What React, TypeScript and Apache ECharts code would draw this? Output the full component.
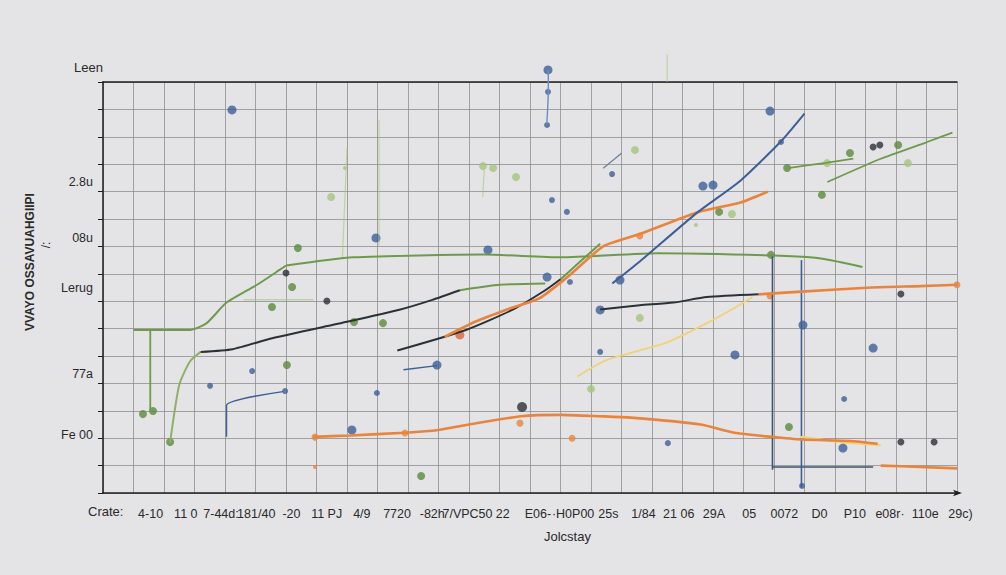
import React, { useEffect, useRef } from "react";
import * as echarts from "echarts";

// ---- text ----
const titleText = "Leen";
const yAxisName = "VVAYO OSSAVUAHGIIPI";
const yAxisName2 = "/:";
const xAxisName = "Jolcstay";
const xAxisLead = "Crate:";
const xTickLabels = ["4-10", "11 0", "7-44d:", "181/40", "-20", "11 PJ", "4/9", "7720", "-82h", "7/VPC50", "22", "E06-", "·H0P00", "25s", "1/84", "21 06", "29A", "05", "0072", "D0", "P10", "e08r·", "110e", "29c)"];
const yTickLabels = ["2.8u", "08u", "Lerug", "77a", "Fe 00"];
const yTickValues = [11.35, 9.3, 7.5, 4.35, 2.1];

// ---- lines ----
const orangeLow = [[6.9, 2.05], [8.1, 2.1], [9.9, 2.2], [11.0, 2.3], [12.0, 2.5], [13.7, 2.8], [15.0, 2.85], [16.3, 2.8], [17.3, 2.75], [19.6, 2.5], [20.7, 2.2], [21.9, 2.05], [22.9, 1.95], [24.5, 1.9], [25.4, 1.8]];
const orangeTail = [[25.5, 1.0], [26.8, 0.95], [28, 0.9]];
const orangeMid = [[21.5, 7.25], [22.9, 7.35], [25.2, 7.5], [26.8, 7.55], [28, 7.6]];
const orangeRise = [[11.2, 5.7], [12.2, 6.25], [13.25, 6.7], [14.3, 7.1], [15.3, 7.95], [16.4, 9.0], [17.6, 9.45], [19.5, 10.25], [20.9, 10.6], [21.8, 11.0]];
const blueRise = [[16.7, 7.65], [17.6, 8.45], [19.5, 10.25], [20.9, 11.4], [22.2, 12.8], [23.0, 13.85]];
const blackLeft = [[3.2, 5.15], [4.25, 5.25], [5.55, 5.65], [8.0, 6.25], [9.75, 6.7], [10.8, 7.05], [11.7, 7.4]];
const greenMid = [[11.7, 7.4], [13.0, 7.6], [14.5, 7.65]];
const blackCross = [[9.65, 5.2], [11.9, 5.95], [13.45, 6.7], [14.5, 7.4], [15.0, 7.8]];
const greenUp = [[15.0, 7.8], [15.6, 8.4], [16.3, 9.1]];
const greenFlat = [[6.0, 8.3], [8.2, 8.6], [12.5, 8.7], [15.0, 8.6], [18.2, 8.75], [22.4, 8.65], [23.6, 8.55], [24.9, 8.25]];
const greenLeft = [[1.0, 5.95], [2.85, 5.95], [3.4, 6.2], [4.05, 6.95], [5.05, 7.6], [5.8, 8.15], [6.0, 8.3]];
const greenDrop = [[1.55, 5.95], [1.55, 2.95]];
const greenCurve = [[2.2, 1.85], [2.5, 3.95], [2.85, 4.8], [3.2, 5.15]];
const greenTopA = [[22.4, 11.85], [23.7, 12.05], [24.6, 12.2]];
const greenTopB = [[23.75, 11.35], [25.5, 12.2], [27.0, 12.8], [27.85, 13.15]];
const palePlateau = [[4.6, 7.05], [6.9, 7.05]];
const yellowLine = [[15.55, 4.25], [16.5, 4.85], [18.5, 5.5], [19.8, 6.2], [20.7, 6.75], [21.3, 7.15]];
const yellowLow = [[22.85, 2.05], [24.3, 1.85], [25.5, 1.75]];
const blackRight = [[16.3, 6.7], [17.6, 6.85], [18.7, 6.95], [19.8, 7.15], [21.5, 7.25]];
const blueLeft = [[4.05, 2.05], [4.05, 3.2], [5.9, 3.7]];
const blueMid = [[9.85, 4.5], [10.95, 4.65]];
const blueTop = [[14.6, 15.45], [14.6, 14.65], [14.55, 13.45]];
const blueVert = [[22.9, 8.5], [22.9, 0.2]];
const darkVert = [[21.95, 8.7], [21.95, 0.85]];
const darkFlat = [[21.95, 0.95], [25.25, 0.95]];
const blueTwig = [[16.4, 11.85], [17.0, 12.4]];
const paleStemA = [[9.05, 13.6], [9.05, 9.0]];
const paleStemB = [[8.0, 12.6], [7.85, 8.6]];
const paleStemC = [[12.5, 11.8], [12.45, 10.8]];
const paleStemD = [[18.5, 16.0], [18.5, 15.0]];

// ---- dots ----
const blueBig = [[4.23, 13.98], [14.59, 15.44], [8.95, 9.31], [12.62, 8.87], [14.56, 7.88], [16.95, 7.77], [19.67, 11.2], [20.0, 11.24], [21.87, 13.94], [16.3, 6.68], [20.72, 5.04], [22.95, 6.13], [25.25, 5.29], [24.26, 1.64], [10.95, 4.67], [8.16, 2.3]];
const blueSmall = [[14.59, 14.64], [14.56, 13.43], [15.31, 7.7], [15.21, 10.26], [14.72, 10.69], [16.69, 11.64], [22.23, 12.81], [16.3, 5.15], [24.3, 3.43], [18.52, 1.82], [22.92, 0.26], [3.51, 3.91], [4.89, 4.45], [5.97, 3.72], [8.98, 3.65]];
const greenDark = [[6.39, 8.94], [5.54, 6.79], [6.2, 7.52], [8.23, 6.24], [9.18, 6.2], [6.03, 4.67], [1.31, 2.88], [1.64, 2.99], [2.2, 1.86], [10.43, 0.62], [22.43, 11.86], [26.07, 12.7], [24.49, 12.41], [20.2, 10.26], [21.9, 8.69], [22.49, 2.41], [23.57, 10.88]];
const greenLight = [[12.46, 11.93], [12.79, 11.86], [13.54, 11.53], [7.48, 10.8], [17.44, 12.52], [23.74, 12.04], [26.39, 12.04], [20.62, 10.18], [16.0, 3.8], [17.6, 6.39]];
const greenTiny = [[7.93, 11.86], [19.44, 9.78]];
const blackDots = [[7.34, 7.01], [6.0, 8.03], [25.25, 12.63], [25.47, 12.7], [26.16, 7.26], [26.16, 1.86], [27.25, 1.86]];
const blackBig = [[13.74, 3.14]];
const orangeDots = [[6.95, 2.04], [9.9, 2.19], [13.67, 2.55], [15.38, 2.0], [28, 7.6], [17.6, 9.38], [21.87, 7.19]];
const orangeTiny = [[6.95, 0.95]];
const redDots = [[11.7, 5.77]];

const C = {
  orange: "#e8843c",
  green: "#6e9a4c",
  greenLight: "#a5c47e",
  black: "#2c3137",
  blue: "#3d5f96",
  yellow: "#efd27a",
  grid: "#8e8e90",
  text: "#2a2a2a",
};

function line(data: number[][], color: string, width: number, opacity = 1) {
  return {
    type: "line",
    data,
    xAxisIndex: 0,
    yAxisIndex: 0,
    showSymbol: false,
    symbol: "none",
    clip: false,
    smooth: 0.2,
    lineStyle: { color, width, opacity },
    silent: true,
  };
}

function dots(data: number[][], color: string, size: number) {
  return {
    type: "scatter",
    data,
    xAxisIndex: 0,
    yAxisIndex: 0,
    clip: false,
    symbol: "circle",
    symbolSize: size,
    itemStyle: { color },
    silent: true,
  };
}

export default function App() {
  const ref = useRef<HTMLDivElement>(null);
  useEffect(() => {
    if (!ref.current) return;
    const chart = echarts.init(ref.current, undefined, { renderer: "svg" });
    const font = "Liberation Sans, Arial, sans-serif";
    chart.setOption({
      animation: false,
      backgroundColor: "#e4e4e6",
      textStyle: { fontFamily: font },
      grid: [
        { left: 103, top: 82, width: 854, height: 411 },
        { left: 133, top: 82, width: 845, height: 411 },
      ],
      xAxis: [
        {
          type: "value",
          gridIndex: 0,
          min: 0,
          max: 28,
          interval: 1,
          axisLine: { show: true, lineStyle: { color: "#1e1e1e", width: 1.5 }, symbol: ["none", "arrow"], symbolSize: [5, 9], symbolOffset: [0, 5] },
          axisTick: { show: false },
          axisLabel: { show: false },
          splitLine: { show: true, lineStyle: { color: C.grid, width: 1, opacity: 0.8 } },
        },
        {
          type: "category",
          gridIndex: 1,
          data: xTickLabels,
          boundaryGap: true,
          axisLine: { show: false },
          axisTick: { show: false },
          splitLine: { show: false },
          axisLabel: { show: true, interval: 0, color: C.text, fontSize: 12.5, margin: 14, fontFamily: font, hideOverlap: false },
        },
        {
          type: "value",
          gridIndex: 0,
          position: "top",
          min: 0,
          max: 28,
          axisLine: { show: true, lineStyle: { color: "#1e1e1e", width: 1.5 } },
          axisTick: { show: false },
          axisLabel: { show: false },
          splitLine: { show: false },
        },
      ],
      yAxis: [
        {
          type: "value",
          gridIndex: 0,
          min: 0,
          max: 15,
          interval: 1,
          axisLine: { show: true, lineStyle: { color: "#1e1e1e", width: 1.5 } },
          axisTick: { show: true, length: 5, lineStyle: { color: "#1e1e1e" } },
          axisLabel: {
            show: true,
            customValues: yTickValues,
            color: C.text,
            fontSize: 12.5,
            margin: 10,
            fontFamily: font,
            formatter: (v: number) => {
              const i = yTickValues.findIndex((t) => Math.abs(t - v) < 1e-6);
              return i >= 0 ? yTickLabels[i] : "";
            },
          },
          splitLine: { show: true, lineStyle: { color: C.grid, width: 1, opacity: 0.8 } },
        },
        { type: "value", gridIndex: 1, show: false, min: 0, max: 1 },
      ],
      graphic: [
        { type: "text", left: 74, top: 61, style: { text: titleText, font: `13px ${font}`, fill: C.text } },
        { type: "text", left: 88, top: 505, style: { text: xAxisLead, font: `13px ${font}`, fill: C.text } },
        { type: "text", left: 544, top: 530, style: { text: xAxisName, font: `13px ${font}`, fill: C.text } },
        { type: "text", x: 30, y: 262, rotation: Math.PI / 2, style: { text: yAxisName, font: `bold 12px ${font}`, fill: C.text, align: "center", verticalAlign: "middle" } },
        { type: "text", x: 46, y: 245, rotation: Math.PI / 2, style: { text: yAxisName2, font: `12px ${font}`, fill: C.text, align: "center", verticalAlign: "middle" } },
      ],
      series: [
        line(paleStemA, C.greenLight, 1.2, 0.6),
        line(paleStemB, C.greenLight, 1.2, 0.6),
        line(paleStemC, C.greenLight, 1.2, 0.6),
        line(paleStemD, C.greenLight, 1.2, 0.6),
        line(palePlateau, C.greenLight, 1.5, 0.6),
        line(darkVert, "#3a5670", 1.6),
        line(darkFlat, "#3a5670", 1.6),
        line(blueVert, C.blue, 1.6),
        line(blueTop, "#6b8fbf", 1.4),
        line(blueLeft, C.blue, 1.4),
        line(blueMid, C.blue, 1.4),
        line(blueTwig, "#6b7f95", 1.2),
        line(greenFlat, C.green, 2),
        line(greenLeft, C.green, 2),
        line(greenDrop, C.green, 1.8),
        line(greenCurve, "#8fb066", 2),
        line(greenMid, C.green, 2),
        line(greenUp, C.green, 2),
        line(greenTopA, C.green, 1.8),
        line(greenTopB, C.green, 1.8),
        line(blackLeft, C.black, 2),
        line(blackCross, C.black, 2),
        line(blackRight, C.black, 2),
        line(yellowLine, C.yellow, 1.8),
        line(yellowLow, C.yellow, 2.2),
        line(orangeLow, C.orange, 2.6),
        line(orangeTail, C.orange, 2.6),
        line(orangeMid, C.orange, 2.6),
        line(orangeRise, C.orange, 2.6),
        line(blueRise, C.blue, 2),
        dots(blueBig, C.blue, 9),
        dots(blueSmall, C.blue, 6),
        dots(greenDark, "#5a8a3c", 8),
        dots(greenLight, C.greenLight, 8),
        dots(greenTiny, C.greenLight, 4),
        dots(blackDots, C.black, 7),
        dots(blackBig, C.black, 10),
        dots(orangeDots, C.orange, 7),
        dots(orangeTiny, C.orange, 4),
        dots(redDots, "#e0633a", 9),
      ],
    });
    return () => chart.dispose();
  }, []);
  return <div ref={ref} style={{ width: 1006, height: 575, position: "absolute", left: 0, top: 0 }} />;
}
